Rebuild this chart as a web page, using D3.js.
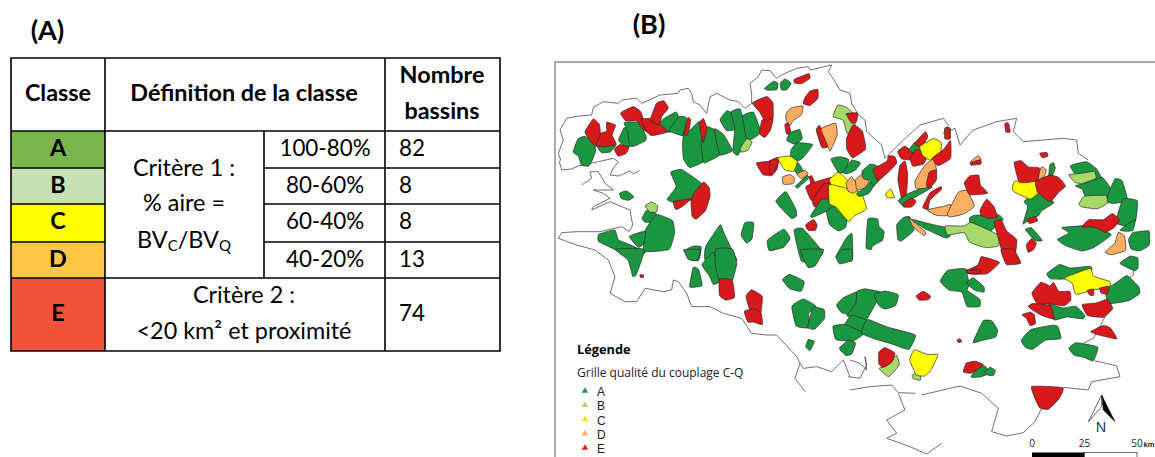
<!DOCTYPE html>
<html><head><meta charset="utf-8">
<script src="https://cdn.jsdelivr.net/npm/d3@7"></script>
<style>html,body{margin:0;padding:0;background:#fff}svg{display:block}</style>
</head><body><svg id="c" width="1155" height="457"></svg>
<script>
// ---- table (A)
const tableClasses = ["A","B","C","D","E"];
const tableRanges = ["100-80%","80-60%","60-40%","40-20%"];
const tableCounts = [82,8,8,13,74];
const tableFills = ["#7ab54e","#c5e0b4","#ffff00","#ffc745","#f05338"];
// ---- map (B): basin outlines traced per sheet of the map, in sheet units
const basinsNorth = [
["A","57,185 70,150 90,142 115,160 120,180 112,205 100,225 80,222 72,198"],
["A","128,167 165,165 180,168 165,185 140,187"],
["A","192,150 208,115 220,125 225,165 212,170"],
["A","210,100 250,100 270,135 270,150 240,165 225,165 220,125"],
["A","315,100 330,85 362,68 368,85 345,125 320,115"],
["A","345,120 372,82 392,85 388,135 365,130"],
["A","385,170 388,130 405,125 432,100 442,155 445,210 405,228 388,205"],
["A","440,155 455,115 480,125 495,190 450,215 445,205"],
["A","480,120 505,135 530,180 495,192"],
["A","497,90 515,65 530,72 540,115 515,120"],
["A","530,70 555,62 570,115 575,140 550,190 535,180 540,115"],
["A","565,80 595,70 615,125 590,145 575,140"],
["B","557,175 575,147 590,157 578,180 560,185"],
["E","180,178 195,165 220,172 212,190 190,197"],
["E","92,125 115,90 132,105 135,130 140,145 120,165 102,145"],
["E","125,165 140,130 155,125 155,100 180,108 170,135 182,162 150,168"],
["E","200,70 235,52 255,65 265,90 285,130 262,115 245,92 215,92"],
["E","260,90 285,88 315,105 335,125 290,135 275,120"],
["E","288,85 305,42 325,35 338,55 320,78 312,103 285,88"],
["E","388,130 398,85 406,90 402,120 395,135"],
["E","434,100 445,88 455,115 445,155 438,130"],
["E","595,40 635,22 652,40 652,85 630,90 615,65"],
["E","622,92 652,90 645,120 630,140 615,130"],
["E","607,220 640,215 668,205 665,235 650,255 625,252"]
];
const basinsCentre = [
["D","50,40 65,25 97,20 92,45 70,60 60,75 50,60"],
["E","45,75 55,70 63,100 50,100"],
["A","52,120 60,100 88,90 95,115 80,130 70,130"],
["A","65,150 82,130 125,135 100,170 85,180 65,170"],
["A","65,195 85,190 100,215 85,225"],
["D","82,222 105,212 113,222 95,235"],
["A","78,258 110,228 115,235 85,262"],
["C","25,175 60,170 80,185 70,212 45,208"],
["E","0,185 20,175 25,185 10,215 0,220"],
["D","38,232 60,225 72,235 68,250 42,252"],
["E","118,232 125,228 135,250 125,255"],
["E","110,262 130,250 180,235 180,255 150,300 125,298"],
["E","130,300 160,255 180,255 182,300 155,315 135,318"],
["A","20,305 48,278 75,325 78,345 65,353 45,335"],
["E","108,375 130,360 140,375 135,390 115,390"],
["A","125,345 155,300 180,300 197,320 175,330 130,350"],
["A","172,335 195,322 230,345 225,380 205,390 180,372"],
["C","180,240 205,218 230,240 230,265 190,258"],
["C","180,260 190,258 230,268 270,280 285,325 250,345 235,360 200,320 182,310"],
["D","230,250 245,232 265,265 250,278 235,272"],
["D","258,240 280,222 295,245 285,262 262,268"],
["A","262,280 290,260 305,240 312,255 295,280 270,288"],
["A","278,215 300,195 320,200 325,240 310,255 300,240 282,235"],
["E","312,208 350,185 355,170 372,172 378,190 360,210 325,240"],
["C","348,282 362,268 372,292 352,292"],
["A","185,178 210,172 235,180 222,215 205,215"],
["A","222,215 245,182 270,190 255,210 232,220"],
["E","140,92 150,80 175,130 170,140 155,140"],
["D","155,88 195,72 200,105 180,150 170,125"],
["B","192,50 205,18 230,25 255,50 248,100 230,95 220,60"],
["E","230,42 262,40 258,65 245,68"],
["E","232,115 250,78 275,95 285,145 248,170 232,145"],
["E","385,155 405,140 428,160 420,178 395,175"],
["A","418,150 435,128 452,145 435,160"],
["E","435,130 465,97 472,112 455,140"],
["E","422,175 440,150 470,165 460,190 430,197"],
["C","452,140 490,118 512,130 508,165 480,178 460,165"],
["E","488,175 520,150 540,125 540,175 505,195"],
["E","525,85 540,85 540,115 525,115"],
["E","390,200 405,187 412,225 408,285 395,290 385,240"],
["A","388,300 418,280 475,258 480,265 420,300 405,310 405,320"],
["D","438,240 465,198 487,182 497,212 470,260 440,262"],
["E","470,255 478,218 498,212 498,240 480,262"],
["E","402,310 425,295 437,305 425,320 405,320"],
["E","460,320 480,280 510,262 512,270 480,300 475,325"]
];
const basinsSouth = [
["A","52,105 70,85 110,68 105,100 85,130 65,125"],
["A","112,68 135,60 180,70 165,100 135,150 85,135 110,100"],
["A","165,75 195,65 232,75 225,105 195,115 178,105"],
["A","95,138 135,150 140,165 130,190 75,170"],
["A","42,170 75,165 128,190 100,210 60,210 48,205"],
["A","60,235 85,212 105,220 95,250 78,255"],
["A","130,190 140,160 150,152 195,170 210,175 280,195 262,235 215,220 165,205"],
["B","180,295 205,285 228,258 236,285 220,305 205,318"],
["E","178,248 195,235 222,250 215,275 190,290 178,280"],
["B","278,315 300,310 300,330 280,325"],
["C","272,270 285,242 320,255 350,255 345,270 330,300 315,315 290,312"],
["E","290,78 310,65 330,78 325,88 300,90"],
["E","412,210 420,207 425,215 415,217"],
["A","365,35 385,5 435,0 445,45 440,60 475,85 475,105 440,105 425,65 390,60"],
["A","442,40 460,25 490,50 490,65 465,60"],
["E","440,0 480,0 470,12 450,10"]
];
const basinsNW = [
["A","355,445 380,410 365,370 395,362 430,385 455,405 440,425 420,447 372,453"],
["A","210,430 230,424 250,440 235,450 215,445"],
["A","278,505 290,483 315,490 320,500 300,515 285,515"],
["A","285,600 290,540 320,498 365,515 370,550 355,595"],
["A","240,560 285,545 280,580 265,590"],
["A","150,555 195,543 205,570 240,585 280,605 265,612 225,610 180,590 150,575"],
["A","410,600 430,590 452,592 445,630 415,625"],
["A","470,590 510,530 520,550 548,610 555,630 470,630"],
["A","575,555 585,520 610,520 605,565 590,577"],
["A","655,570 700,540 718,565 700,590 660,600"],
["A","735,545 760,540 815,605 790,630 755,630"],
["A","860,620 890,565 905,555 905,630"],
["A","645,115 670,95 682,100 680,118 655,120"],
["A","692,100 705,88 722,100 710,118 695,118"],
["B","287,468 305,457 322,468 318,485 300,485"],
["E","765,145 780,125 802,120 802,145 780,165 762,160"],
["E","735,88 775,72 778,85 755,100 735,98"],
["E","435,430 460,400 475,415 478,440 465,480 440,503 428,495 425,450"],
["E","372,455 420,448 395,470 378,477"]
];
const basinsNE = [
["A","50,590 55,510 82,510 85,530 100,545 95,570 68,585 65,595"],
["A","142,525 160,505 178,503 190,540 155,570 145,565"],
["A","190,510 250,525 295,535 298,555 285,562 225,535"],
["A","362,505 375,498 440,495 455,510 410,550 390,540 365,530"],
["A","600,345 610,340 615,355 605,378 597,375"],
["A","522,518 535,470 525,455 565,425 608,458 575,480 565,495 540,505"],
["A","665,350 710,338 735,355 745,370 765,410 700,400"],
["A","680,408 710,400 755,385 778,415 765,442 710,440 700,418"],
["A","770,450 795,390 815,395 830,450 790,458"],
["A","800,515 820,450 860,455 855,510 830,525"],
["A","812,540 830,525 855,510 848,540 830,543"],
["A","528,540 545,535 575,570 555,570"],
["A","628,568 660,550 640,535 700,530 735,535 778,555 730,590 695,600 650,585"],
["A","838,570 850,550 895,545 895,585 870,600 845,595"],
["B","660,375 700,370 730,365 735,385 695,400 675,395"],
["B","690,462 705,440 765,438 768,460 740,475 700,470"],
["B","292,530 345,530 365,520 440,555 440,585 405,590 360,575 345,548 300,555"],
["C","490,420 497,395 560,395 565,425 540,445 505,430"],
["D","235,480 280,470 300,465 298,495 260,495"],
["D","295,490 325,430 350,425 370,468 340,490 305,498"],
["D","178,505 190,515 225,545 220,555 190,530"],
["D","560,390 575,352 588,362 578,385 563,397"],
["D","768,605 795,580 805,550 822,560 825,600 785,612"],
["D","365,332 385,318 392,330 365,338"],
["E","465,222 475,220 480,245 468,245"],
["E","570,310 590,308 593,318 578,323"],
["E","362,338 390,330 392,342 365,345"],
["E","345,400 360,380 385,378 390,405 410,428 360,432"],
["E","392,480 410,450 430,470 440,500 415,503 395,495"],
["E","435,520 455,515 470,545 498,570 490,630 460,610"],
["E","495,340 515,335 535,352 565,355 560,390 510,395"],
["E","560,395 600,378 625,385 643,408 625,425 600,452 565,425"],
["E","530,510 555,500 562,512 540,520"],
["E","700,530 720,510 760,510 785,493 805,510 790,532 765,545 735,530"],
["E","530,585 545,567 558,580 550,598 535,605"]
];
const basinsSW = [
["A","200,0 280,0 258,70 248,75 235,30"],
["A","403,0 450,0 440,30 418,28"],
["A","420,108 430,55 445,60 455,105 430,110"],
["A","458,45 490,10 500,50 510,90 490,100 478,75"],
["A","500,0 545,0 558,40 545,88 510,90 498,45"],
["A","700,90 720,75 760,95 752,122 720,115"],
["A","755,0 818,0 795,45 775,50 760,20"],
["A","860,20 880,0 905,0 905,30 870,40"],
["A","728,170 760,150 795,170 775,190 775,230 740,225"],
["A","775,230 790,175 820,180 822,205 795,235"],
["A","768,290 775,270 792,275 780,300"],
["E","510,90 545,92 552,140 528,148 510,135"],
["E","590,140 605,122 635,140 630,190 600,175"],
["E","585,185 612,178 632,190 635,222 610,215 595,215"],
["E","270,75 280,75 280,82 272,82"]
];
const basinsSE = [
["A","372,275 400,215 425,215 440,240 435,260 395,270"],
["A","365,380 385,350 405,350 415,370 390,380"],
["A","405,365 420,353 435,362 430,375 415,375"],
["A","595,70 630,45 660,55 715,50 720,60 690,62 650,85 605,85"],
["A","600,165 640,175 675,170 700,195 695,205 650,200 615,208"],
["A","518,270 545,240 605,228 620,232 628,265 585,270 550,295 530,290"],
["A","660,295 680,280 740,292 728,330 700,320 675,315"],
["A","770,120 800,100 830,80 862,110 865,130 835,150 785,158 775,150"],
["A","812,40 840,20 862,25 862,55 850,60"],
["C","648,85 680,72 720,58 730,80 775,95 772,110 730,118 680,130 670,100"],
["E","352,62 385,45 395,22 445,38 410,70 360,70"],
["E","455,0 490,0 510,38 470,42"],
["E","350,340 375,335 398,345 365,368 342,365"],
["E","550,130 575,100 600,110 610,100 625,125 655,125 658,150 640,165 600,160 565,160"],
["E","538,170 550,162 600,168 610,205 575,195 550,180"],
["E","518,195 540,188 552,195 555,220 540,225 530,205"],
["E","700,165 740,160 770,150 785,175 760,200 715,195"],
["E","712,122 730,118 730,135 720,135"],
["E","750,115 775,110 772,130 755,130"],
["E","725,245 760,228 780,235 798,265 750,255"],
["E","548,412 635,415 625,445 595,475 570,470"]
];
const coastNW = [
"268,362 250,372 240,362 225,370 205,378 180,375 190,355 205,335 190,325 145,335 85,348 65,357 35,360 28,335 32,330 25,310 40,270 30,240 50,205 85,198 125,195 130,172 160,155 205,160 215,150 260,145 275,160 330,135 385,130 390,120 415,115 425,130 430,155 450,165 470,190 480,140 500,130 540,150 565,155 585,175 605,160 605,130 600,100 625,80 635,60 660,62 680,85 695,75 740,55 775,50 780,60 845,45 835,65 845,80 870,120 900,130 905,160 925,195 945,210 950,245 995,285 1005,325 1030,300 1060,270 1110,225 1180,205 1195,225 1180,250 1215,235 1230,285 1260,250 1270,240 1340,215 1400,205 1390,245 1420,275 1540,265 1580,270 1585,310 1615,330",
"95,405 125,385 120,365 145,365 165,400 190,420 130,420 160,430 180,445 130,470 125,480 180,455 240,480 248,525 238,545 215,530 150,545 80,545 35,548 25,565 80,585 135,600"
];
const coastSW = [
"135,0 175,30 195,80 180,130 225,155 260,155 285,115 340,125 365,120 370,90 385,95 410,130 425,170 480,170 520,190 575,205 605,250 650,255 680,255 740,320 750,340 735,385 765,425",
"750,340 760,355 800,350 845,365 880,330 900,380"
];
const coastSE = [
"-5,380 30,385 50,345 45,320 50,360 30,340 0,330",
"0,420 60,410 125,405 145,428 195,430",
"145,430 165,480 110,510 140,550 110,565 180,590 230,612 275,580",
"215,435 330,408 395,430 445,475 425,545 470,558 520,548 555,515 575,475",
"640,412 715,420 725,395 810,380 800,348 735,332",
"700,280 730,265 760,210 765,200",
"850,60 850,75 835,85"
];
const classFill = {A:"#1a9641",B:"#a6d96a",C:"#ffff00",D:"#fdae61",E:"#d7191c"};
const legendClasses = ["A","B","C","D","E"];
const legendFill = {A:"#1a9641",B:"#a6d96a",C:"#e6e619",D:"#fdae61",E:"#e31a1c"};
const scaleTicks = ["0","25","50"];

const svg = d3.select("#c");
const BODY = "Lato, Carlito, sans-serif", QGIS = "'Open Sans', 'DejaVu Sans', sans-serif";

// ---- table geometry
const colX = d3.scaleOrdinal().domain(["l","def","sub","n","r"]).range([11,105,264,385,500]);
const rowY = d3.scaleOrdinal().domain(["top","A","B","C","D","E","end"]).range([58,131,168,204,242,278,351]);
const tA = svg.append("g");
const rowsK = ["A","B","C","D","E","end"];
tA.selectAll("rect.f").data(tableClasses).join("rect")
  .attr("x",colX("l")).attr("width",colX("def")-colX("l"))
  .attr("y",d=>rowY(d)).attr("height",(d,i)=>rowY(rowsK[i+1])-rowY(d))
  .attr("fill",(d,i)=>tableFills[i]);
const hl=(x1,x2,y)=>tA.append("line").attr("x1",x1).attr("x2",x2).attr("y1",y).attr("y2",y).attr("stroke","#000").attr("stroke-width",1.6);
const vl=(x,y1,y2)=>tA.append("line").attr("x1",x).attr("x2",x).attr("y1",y1).attr("y2",y2).attr("stroke","#000").attr("stroke-width",1.6);
hl(10.2,500.8,58);hl(11,500,131);hl(11,105,168);hl(264,500,168);hl(11,105,204);hl(264,500,204);hl(11,105,242);hl(264,500,242);hl(11,500,278);hl(10.2,500.8,351);
vl(11,58,351);vl(105,58,351);vl(264,131,278);vl(385,58,351);vl(500,58,351);
const txt=(g,x,y,s,o={})=>g.append("text").attr("x",x).attr("y",y).attr("text-anchor",o.a||"middle")
  .attr("font-family",o.f||BODY).attr("font-size",o.s||23.4).attr("font-weight",o.b?"700":"400").attr("fill",o.c||"#000").text(s);
txt(svg,47.5,40,"(A)",{s:27,b:1});txt(svg,649,34,"(B)",{s:27,b:1});
txt(tA,58,101,"Classe",{b:1});txt(tA,244,101,"Définition de la classe",{b:1});
txt(tA,442,83,"Nombre",{b:1});txt(tA,442,119,"bassins",{b:1});
tableClasses.forEach((c,i)=>{
  const y=[156,193,229,267,321][i];
  txt(tA,58,y,c,{b:1});
  txt(tA,399,y,tableCounts[i],{a:"start",s:22.4});
  if(i<4) txt(tA,325,y,tableRanges[i],{s:22.4});
});
txt(tA,184,176,"Critère 1 :");txt(tA,184,211,"% aire =");
const bv=txt(tA,184,248,"BV");
bv.append("tspan").attr("font-size",15).attr("dy",3).text("C");
bv.append("tspan").attr("dy",-3).text("/BV");
bv.append("tspan").attr("font-size",15).attr("dy",3).text("Q");
txt(tA,244,303,"Critère 2 :");txt(tA,244,339,"<20 km² et proximité");

// ---- map
svg.append("rect").attr("x",555).attr("y",62).attr("width",620).attr("height",420).attr("fill","#fff").attr("stroke","#aaa").attr("stroke-width",2);
const parse=s=>s.split(" ").map(p=>p.split(",").map(Number));
const sheet=(ox,oy)=>{
  const x=d3.scaleLinear().domain([0,900]).range([ox,ox+300]);
  const y=d3.scaleLinear().domain([0,900]).range([oy,oy+300]);
  return {open:d3.line().x(d=>x(d[0])).y(d=>y(d[1])),
          closed:d3.line().x(d=>x(d[0])).y(d=>y(d[1])).curve(d3.curveCardinalClosed.tension(.6))};
};
const swell=pts=>{const [cx,cy]=d3.polygonCentroid(pts);return pts.map(([a,b])=>[cx+(a-cx)*1.08,cy+(b-cy)*1.08]);};
const sheets=[[basinsNW,coastNW,550,50],[basinsNE,[],850,50],[basinsSW,coastSW,550,250],[basinsSE,coastSE,850,250],
 [basinsNorth,[],555,90],[basinsCentre,[],770,100],[basinsSouth,[],820,270]];
const gC=svg.append("g"), gB=svg.append("g");
sheets.forEach(([b,c,ox,oy])=>{
  const s=sheet(ox,oy);
  gC.selectAll(null).data(c).join("path").attr("d",d=>s.open(parse(d))).attr("fill","none").attr("stroke","#333").attr("stroke-width",.7);
  gB.selectAll(null).data(b).join("path").attr("d",d=>s.closed(swell(parse(d[1])))).attr("fill",d=>classFill[d[0]]).attr("stroke","#2a2a2a").attr("stroke-width",.7).attr("stroke-linejoin","round");
});

// ---- legend
const lg=svg.append("g");
txt(lg,577,354,"Légende",{a:"start",f:QGIS,s:12.8,b:1});
txt(lg,577,377,"Grille qualité du couplage C-Q",{a:"start",f:QGIS,s:12,c:"#222"});
const ly=d3.scalePoint().domain(legendClasses).range([392,449]);
const tri=d3.symbol().type(d3.symbolTriangle).size(18);
legendClasses.forEach(c=>{
  lg.append("path").attr("d",tri()).attr("transform",`translate(585,${ly(c)-1})`).attr("fill",legendFill[c]);
  txt(lg,597,ly(c)+4,c,{a:"start",f:"'Liberation Sans', sans-serif",s:12,c:"#222"});
});

// ---- north arrow and scale bar
const nx=d3.scaleLinear().domain([0,900]).range([850,1150]), ny=d3.scaleLinear().domain([0,900]).range([250,550]);
const l2=d3.line().x(d=>nx(d[0])).y(d=>ny(d[1])).curve(d3.curveLinearClosed);
svg.append("path").attr("d",l2([[755,435],[755,470],[715,515]])).attr("fill","#fff").attr("stroke","#222").attr("stroke-width",.7);
svg.append("path").attr("d",l2([[755,435],[795,515],[760,480]])).attr("fill","#000").attr("stroke","#000").attr("stroke-width",.5);
txt(svg,nx(753),ny(546),"N",{f:QGIS,s:14,c:"#222"});
const kmX=d3.scaleLinear().domain([0,50]).range([1032,1137]);
scaleTicks.forEach(t=>txt(svg,kmX(+t),447,t,{f:QGIS,s:10,c:"#222"}));
txt(svg,1143.5,447,"km",{a:"start",f:"'Liberation Sans', sans-serif",s:7.5,b:1,c:"#222"});
svg.append("rect").attr("x",kmX(0)).attr("y",452.5).attr("width",kmX(25)-kmX(0)).attr("height",6).attr("fill","#000");
svg.append("rect").attr("x",kmX(25)).attr("y",452.5).attr("width",kmX(50)-kmX(25)).attr("height",6).attr("fill","#fff").attr("stroke","#333").attr("stroke-width",.7);
</script></body></html>
